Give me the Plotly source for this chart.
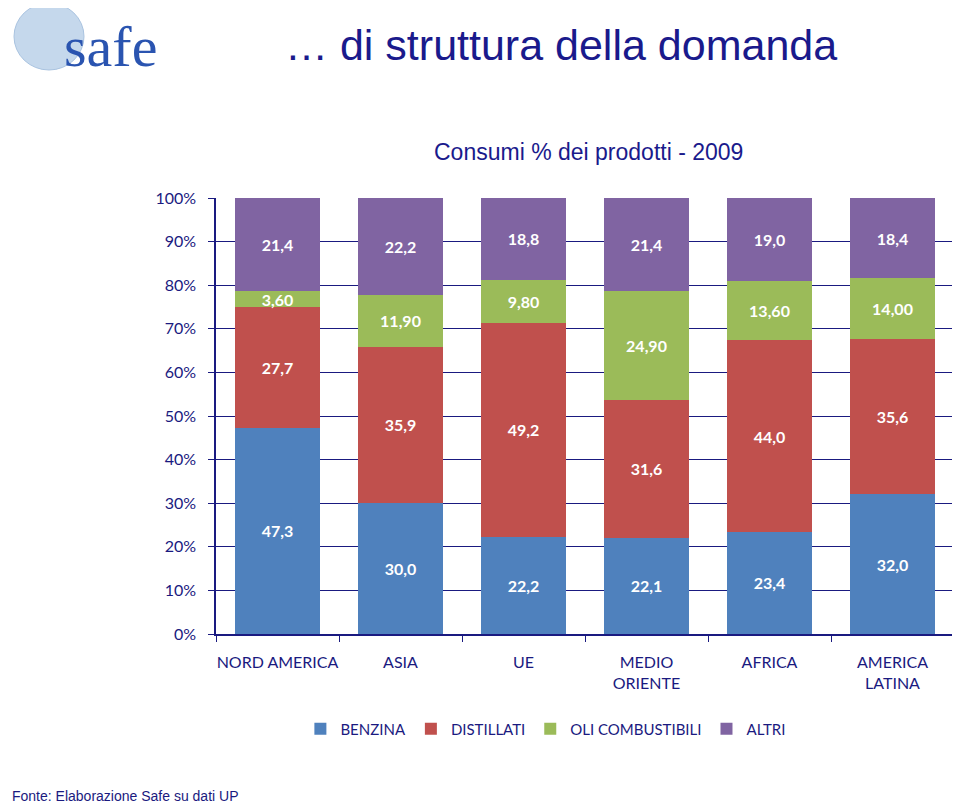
import plotly.graph_objects as go

categories = ["NORD AMERICA", "ASIA", "UE", "MEDIO<br>ORIENTE", "AFRICA", "AMERICA<br>LATINA"]
series_names = ["BENZINA", "DISTILLATI", "OLI COMBUSTIBILI", "ALTRI"]
benzina = [47.3, 30.0, 22.2, 22.1, 23.4, 32.0]
distillati = [27.7, 35.9, 49.2, 31.6, 44.0, 35.6]
oli_combustibili = [3.60, 11.90, 9.80, 24.90, 13.60, 14.00]
altri = [21.4, 22.2, 18.8, 21.4, 19.0, 18.4]
decimals = [1, 1, 2, 1]
y_ticks = list(range(0, 101, 10))
y_tick_labels = [f"{v}%" for v in y_ticks]

colors = ["#4F81BD", "#C0504D", "#9BBB59", "#8064A2"]
navy = "#1A1A80"

fig = go.Figure()
for name, vals, dec, col in zip(series_names, [benzina, distillati, oli_combustibili, altri], decimals, colors):
    txt = [f"{v:.{dec}f}".replace(".", ",") for v in vals]
    fig.add_trace(go.Bar(
        x=categories, y=vals, name=name, marker_color=col, marker_line_width=0,
        text=txt, textposition="inside", insidetextanchor="middle",
        textfont=dict(family="Lato", size=16, color="white", weight="bold"),
        hoverinfo="skip",
    ))

fig.update_layout(
    barmode="stack", barnorm="percent", bargap=0.31,
    width=960, height=810,
    margin=dict(l=208, r=14, t=190, b=184, autoexpand=False),
    paper_bgcolor="white", plot_bgcolor="white",
    uniformtext=dict(minsize=16, mode="show"),
    font=dict(family="Lato", color=navy, size=16),
    legend=dict(orientation="h", x=0.447, xanchor="center", y=-0.218, yanchor="middle",
                font=dict(family="Lato", size=15, color=navy), itemwidth=30, traceorder="normal"),
    showlegend=True,
)
fig.update_yaxes(range=[0, 100], tickvals=y_ticks, ticktext=y_tick_labels,
                 showgrid=True, gridcolor=navy, gridwidth=1,
                 showline=True, linecolor=navy, linewidth=1.5,
                 ticks="outside", ticklen=6, tickcolor=navy, automargin=False,
                 ticklabelstandoff=9,
                 tickfont=dict(family="Lato", size=16, color=navy), zeroline=False)
fig.update_xaxes(showline=True, linecolor=navy, linewidth=1.5, tickangle=0, automargin=False,
                 ticks="outside", tickson="boundaries", ticklen=6, tickcolor=navy,
                 ticklabelstandoff=13,
                 tickfont=dict(family="Lato", size=16, color=navy))

fig.add_annotation(text="… di struttura della domanda", xref="paper", yref="paper",
                   x=(561-216)/738, y=(634-45)/436, xanchor="center", yanchor="middle", showarrow=False,
                   font=dict(family="Liberation Sans, Arial", size=43, color="#1A1A8C"))
fig.add_annotation(text="Consumi % dei prodotti - 2009", xref="paper", yref="paper",
                   x=(588-216)/738, y=(634-152)/436, xanchor="center", yanchor="middle", showarrow=False,
                   font=dict(family="Liberation Sans, Arial", size=23, color="#1A1A8C"))
fig.add_annotation(text="Fonte: Elaborazione Safe su dati UP", xref="paper", yref="paper",
                   x=(10-216)/738, y=-(796-634)/436, xanchor="left", yanchor="middle", showarrow=False,
                   font=dict(family="Liberation Sans, Arial", size=14, color="#1A1A80"))

# logo approximation
fig.add_shape(type="circle", xref="paper", yref="paper",
              x0=(14-216)/738, x1=(84-216)/738, y0=(634-70)/436, y1=(634-3)/436,
              fillcolor="#C5D8EC", line=dict(color="#A9C3E0", width=1), layer="above")
fig.add_annotation(text="safe", xref="paper", yref="paper",
                   x=(62-216)/738, y=(634-46)/436, xanchor="left", yanchor="middle", showarrow=False,
                   font=dict(family="Liberation Serif", size=58, color="#2A54B0"))

fig.write_html("out.html")
